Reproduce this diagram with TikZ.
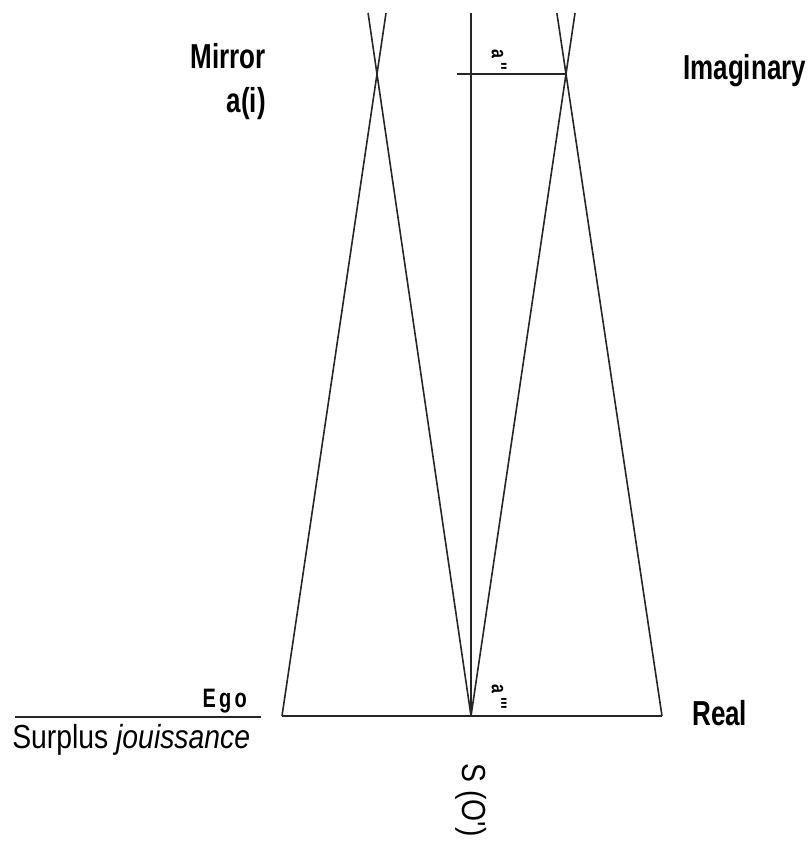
\documentclass[tikz,border=0pt]{standalone}
\usepackage{fontspec}
\newfontfamily\condbold[FakeStretch=0.75]{Liberation Sans}
\newfontfamily\condreg[FakeStretch=0.85]{Liberation Sans}
\usetikzlibrary{calc}

\begin{document}
\begin{tikzpicture}[x=0.75pt, y=-0.75pt,
    ray/.style={draw=black!85, line width=1.2pt},
    lbl/.style={font=\condbold\bfseries\fontsize{26}{28}\selectfont, inner sep=0pt},
    plain/.style={font=\condreg\fontsize{25}{27}\selectfont, inner sep=0pt},
    tag/.style={font=\condbold\bfseries\fontsize{16}{17}\selectfont, inner sep=0pt, rotate=-90}
  ]
  \useasboundingbox (0,0) rectangle (809,844);

  % Base points and crossings
  \coordinate (ego) at (282,716);
  \coordinate (s) at (471,716);
  \coordinate (real) at (662,716);
  \coordinate (mirror) at (377,74);
  \coordinate (imag) at (566,74);
  \coordinate (top) at (471,13);
  \coordinate (tick) at (457,74);

  % Left cone
  \draw[ray] (ego) -- ($(ego)!1.095!(mirror)$);
  \draw[ray] (s) -- ($(s)!1.095!(mirror)$);

  % Right cone
  \draw[ray] (s) -- ($(s)!1.095!(imag)$);
  \draw[ray] (real) -- ($(real)!1.095!(imag)$);

  % Axis and base
  \draw[ray] (s) -- (top);
  \draw[ray] (tick) -- (imag);
  \draw[ray] (ego) -- (real);

  % Ego line
  \coordinate (egoA) at (15,717);
  \coordinate (egoB) at (261,717);
  \draw[ray] (egoA) -- (egoB);

  % Labels
  \node[lbl, anchor=base east] (mirrorlbl) at (266,68) {Mirror};
  \node[lbl, anchor=base east] (ailbl) at (266,112) {a(i)};
  \node[lbl, anchor=base west] (imaglbl) at (683,79) {Imaginary};
  \node[lbl, anchor=base west] (reallbl) at (692,725) {Real};
  \node[lbl, anchor=base east, font=\condbold\bfseries\fontsize{20}{22}\selectfont\addfontfeature{LetterSpace=12}] (egolbl) at (247,707) {Ego};
  \node[plain, anchor=base west] (surplus) at (12,748) {Surplus \textit{jouissance}};
  \node[plain, rotate=-90, anchor=center] (slbl) at (471,800) {S (O')};

  % Small tags
  \node[tag] (app) at (499,60) {a\hspace{3pt}''};
  \node[tag] (appp) at (499,697) {a\hspace{3pt}'''};
\end{tikzpicture}
\end{document}
